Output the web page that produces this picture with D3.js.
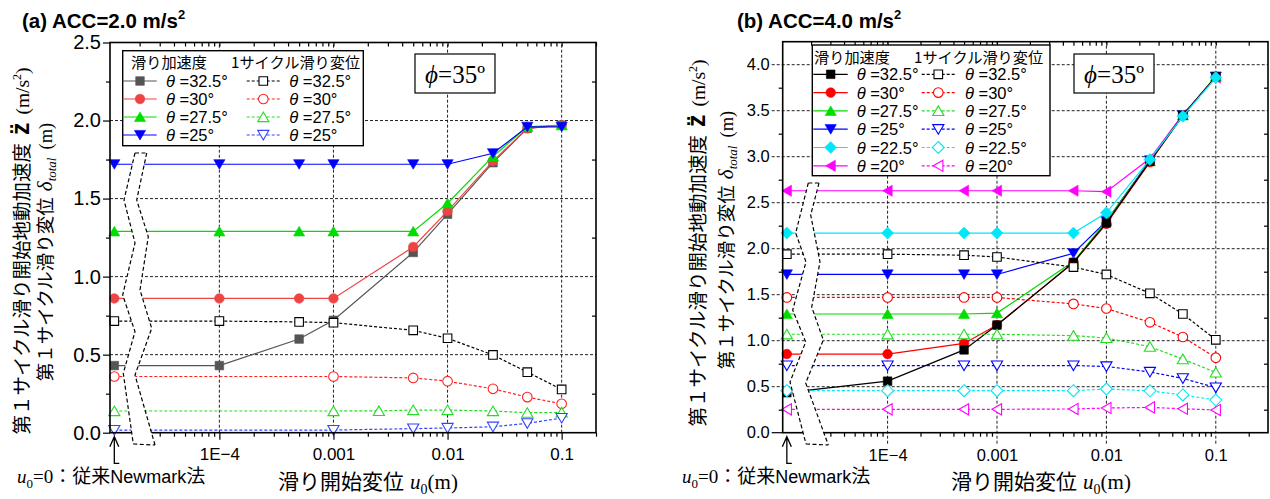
<!DOCTYPE html>
<html>
<head>
<meta charset="utf-8">
<script src="https://cdn.jsdelivr.net/npm/d3@7"></script>
<style>
body { margin: 0; background: #fff; }
svg { display: block; }
text { font-family: "Liberation Sans", Arial, sans-serif; fill: #000; }
.jp { font-family: "Noto Sans CJK JP", sans-serif; }
.serif { font-family: "Liberation Serif", "Times New Roman", serif; }
</style>
</head>
<body>
<svg width="1270" height="499"></svg>
<script>
var svg = d3.select("svg");

// ---- データ ----
var U_NEWMARK = 1.2e-5;   // u0=0 (従来Newmark法) は対数軸の左端付近に置く
var xTicks = [1e-4, 1e-3, 1e-2, 1e-1];
var xTickLabels = ["1E\u22124", "0.001", "0.01", "0.1"];
var yTicksA = [0, 0.5, 1.0, 1.5, 2.0, 2.5];
var yTicksB = [0, 0.5, 1.0, 1.5, 2.0, 2.5, 3.0, 3.5, 4.0];
var thetaA = ["32.5", "30", "27.5", "25"];
var thetaB = ["32.5", "30", "27.5", "25", "22.5", "20"];

// (a) ACC=2.0 m/s2
var uA = [0, 1e-4, 5e-4, 1e-3, 2.5e-3, 5e-3, 1e-2, 2.5e-2, 5e-2, 1e-1];
var accA325 = [0.43, 0.43, 0.60, 0.72, null, 1.155, 1.40, 1.73, 1.95, 1.97];
var accA30  = [0.86, 0.86, 0.86, 0.86, null, 1.19, 1.42, 1.74, 1.95, 1.97];
var accA275 = [1.29, 1.29, 1.29, 1.29, null, 1.29, 1.47, 1.77, 1.96, 1.97];
var accA25  = [1.72, 1.72, 1.72, 1.72, null, 1.72, 1.72, 1.79, 1.96, 1.96];
var dispA325 = [0.715, 0.715, 0.71, 0.705, null, 0.656, 0.605, 0.498, 0.388, 0.277];
var dispA30  = [0.36, null, null, 0.36, null, 0.351, 0.33, 0.281, 0.228, 0.185];
var dispA275 = [0.139, null, null, 0.139, 0.14, 0.145, 0.145, 0.139, 0.128, 0.13];
var dispA25  = [0.017, null, null, 0.017, null, 0.026, 0.03, 0.038, 0.06, 0.094];

// (b) ACC=4.0 m/s2
var uB = [0, 1e-4, 5e-4, 1e-3, 5e-3, 1e-2, 2.5e-2, 5e-2, 1e-1];
var accB325 = [0.435, 0.56, 0.90, 1.17, 1.85, 2.28, 2.95, 3.45, 3.87];
var accB30  = [0.855, 0.855, 0.97, 1.17, 1.85, 2.27, 2.94, 3.45, 3.87];
var accB275 = [1.29, 1.29, 1.29, 1.30, 1.86, 2.30, 2.95, 3.45, 3.87];
var accB25  = [1.72, 1.72, 1.72, 1.72, 1.95, 2.30, 2.96, 3.45, 3.87];
var accB225 = [2.17, 2.17, 2.17, 2.17, 2.17, 2.39, 2.97, 3.44, 3.86];
var accB20  = [2.63, 2.63, 2.63, 2.63, 2.63, 2.62, 2.98, 3.46, 3.86];
var dispB325 = [1.94, 1.94, 1.93, 1.91, 1.80, 1.72, 1.515, 1.29, 1.01];
var dispB30  = [1.47, 1.47, 1.47, 1.47, 1.40, 1.35, 1.20, 1.04, 0.815];
var dispB275 = [1.07, 1.07, 1.07, 1.07, 1.055, 1.03, 0.935, 0.80, 0.655];
var dispB25  = [0.73, 0.73, 0.73, 0.73, 0.73, 0.72, 0.66, 0.59, 0.49];
var dispB225 = [0.457, 0.457, 0.457, 0.457, 0.457, 0.475, 0.455, 0.41, 0.355];
var dispB20  = [0.254, 0.254, 0.254, 0.254, 0.258, 0.268, 0.275, 0.26, 0.247];

// ---- 描画設定 ----
var panelA = {
  left: 110, right: 596, top: 42.5, bottom: 432.7, yMax: 2.5, xMax: 0.2,
  yTicks: yTicksA, yFont: 20, xFont: 17, gridExt: 0,
  u: uA, theta: thetaA,
  acc: [accA325, accA30, accA275, accA25],
  disp: [dispA325, dispA30, dispA275, dispA25],
  accColor: ["#555555", "#ee4444", "#00dd00", "#0000ff"],
  dispColor: ["#000000", "#ff2222", "#22dd22", "#3344ff"],
  order: [0, 1, 2, 3],
  // 軸の省略記号 (左軸からのx, y px)
  bandL: [[25,153],[14,200],[25,243],[12.7,295],[25,331.7],[13.3,373.3],[23.3,444]],
  bandR: [[36.7,153],[26.7,200],[38.3,236.7],[30,290],[41.7,328.3],[25,375],[45,445]],
  title: "(a) ACC=2.0 m/s", titleX: 22,
  legend: {x0: 122.7, y0: 50.7, x1: 363.3, y1: 145.7, headY: 68, rowY: 81, rowH: 18,
           sol: [122.7, 156.7, 140, 166], dsh: [246.7, 280, 263.3, 289.3], h1: 131, h2: 231},
  phi: [415, 54, 80, 39],
  yt1: [28.6, 251, 19.5], yt2: [52, 252, 18.5],
  xt: [368, 489], note: [17, 483]
};
var panelB = {
  left: 782.7, right: 1268, top: 41.7, bottom: 432.7, yMax: 4.25, xMax: 0.3,
  yTicks: yTicksB, yFont: 16.5, xFont: 16.5, gridExt: 11,
  u: uB, theta: thetaB,
  acc: [accB325, accB30, accB275, accB25, accB225, accB20],
  disp: [dispB325, dispB30, dispB275, dispB25, dispB225, dispB20],
  accColor: ["#000000", "#ff0000", "#00dd00", "#0000ff", "#00e8f8", "#ff00ff"],
  dispColor: ["#000000", "#ff0000", "#22dd22", "#0000ff", "#00e8f8", "#ff00ff"],
  order: [5, 3, 2, 1, 0, 4],
  bandL: [[25.6,183],[13,233],[23.3,262],[10,310],[23,342],[7.3,382],[23.3,444]],
  bandR: [[36.3,183],[28,215],[37.3,262],[29,307],[40.6,340],[23,383],[45.6,445]],
  title: "(b) ACC=4.0 m/s", titleX: 737,
  legend: {x0: 812.3, y0: 45, x1: 1050, y1: 175.7, headY: 62.5, rowY: 74.3, rowH: 18.3,
           sol: [813.3, 847.7, 830.7, 856.7], dsh: [921.7, 955, 938.3, 965], h1: 814, h2: 914},
  phi: [1074, 54, 80, 39],
  yt1: [705, 243, 19.5], yt2: [733, 240, 18.5],
  xt: [1041, 489], note: [682, 483]
};

var shapes = ["square", "circle", "up", "down", "diamond", "left"];

function markerPath(shape) {
  if (shape === "square") return "M-4.3,-4.3H4.3V4.3H-4.3Z";
  if (shape === "circle") return "M-4.8,0A4.8,4.8 0 1,0 4.8,0A4.8,4.8 0 1,0 -4.8,0Z";
  if (shape === "up") return "M0,-5L5.6,4.6L-5.6,4.6Z";
  if (shape === "down") return "M0,5L5.6,-4.6L-5.6,-4.6Z";
  if (shape === "left") return "M-5,0L4.6,-5.6L4.6,5.6Z";
  if (shape === "diamond") return "M0,-6L6,0L0,6L-6,0Z";
}

function uPos(u) { return u === 0 ? U_NEWMARK : u; }

function drawSeries(g, x, y, u, vals, color, shape, open) {
  var pts = u.map(function(uu, i) { return [uPos(uu), vals[i]]; })
    .filter(function(d) { return d[1] != null; });
  g.append("path").datum(pts)
    .attr("d", d3.line().x(function(d) { return x(d[0]); }).y(function(d) { return y(d[1]); }))
    .attr("fill", "none").attr("stroke", color).attr("stroke-width", 1.2)
    .attr("stroke-dasharray", open ? "3,2" : null);
  g.append("g").selectAll("path").data(pts).join("path")
    .attr("transform", function(d) { return "translate(" + x(d[0]) + "," + y(d[1]) + ")"; })
    .attr("d", markerPath(shape))
    .attr("fill", open ? "#fff" : color)
    .attr("stroke", color).attr("stroke-width", open ? 1.1 : 0.6);
}

function logMinor(d0, d1) {
  var v = [];
  for (var e = -6; e <= 0; e++) {
    for (var k = 2; k <= 9; k++) {
      var t = k * Math.pow(10, e);
      if (t >= d0 && t <= d1) v.push(t);
    }
  }
  return v;
}

function styleAxis(sel, size) {
  sel.attr("font-family", null).attr("font-size", size);
  sel.select(".domain").remove();
  sel.selectAll("line").attr("stroke", "#000").attr("stroke-width", 1.2);
}

function drawPanel(p) {
  var g = svg.append("g");
  var x = d3.scaleLog().domain([1.1e-5, p.xMax]).range([p.left, p.right]);
  var y = d3.scaleLinear().domain([0, p.yMax]).range([p.bottom, p.top]);

  // グリッド
  var grid = g.append("g").attr("stroke", "#222").attr("stroke-width", 1).attr("stroke-dasharray", "3,2");
  grid.selectAll(".h").data(p.yTicks.filter(function(v) { return v > 0 && v < p.yMax; }))
    .join("line").attr("class", "h")
    .attr("x1", p.left - p.gridExt).attr("x2", p.right)
    .attr("y1", function(d) { return y(d); }).attr("y2", function(d) { return y(d); });
  grid.selectAll(".v").data(xTicks).join("line").attr("class", "v")
    .attr("y1", p.bottom + p.gridExt).attr("y2", p.top)
    .attr("x1", function(d) { return x(d); }).attr("x2", function(d) { return x(d); });

  // データ
  p.order.forEach(function(i) {
    drawSeries(g, x, y, p.u, p.acc[i], p.accColor[i], shapes[i], false);
  });
  p.order.forEach(function(i) {
    drawSeries(g, x, y, p.u, p.disp[i], p.dispColor[i], shapes[i], true);
  });

  // 軸
  var minorX = logMinor(1.1e-5, p.xMax);
  var minorY = d3.range(0.25, p.yMax - 0.01, 0.5);
  var majTick = p.gridExt > 0 ? 0 : 7;

  g.append("g").attr("transform", "translate(0," + p.bottom + ")")
    .call(d3.axisBottom(x).tickValues(xTicks).tickFormat(function(d, i) { return xTickLabels[i]; })
      .tickSize(majTick).tickSizeOuter(0).tickPadding(p.gridExt > 0 ? 17 : 8))
    .call(styleAxis, p.xFont);
  g.append("g").attr("transform", "translate(0," + p.bottom + ")")
    .call(d3.axisBottom(x).tickValues(minorX).tickFormat("").tickSize(4).tickSizeOuter(0))
    .call(styleAxis, p.xFont);
  g.append("g").attr("transform", "translate(0," + p.top + ")")
    .call(d3.axisTop(x).tickValues(xTicks.concat(minorX)).tickFormat("").tickSize(-4).tickSizeOuter(0))
    .call(styleAxis, p.xFont);

  g.append("g").attr("transform", "translate(" + p.left + ",0)")
    .call(d3.axisLeft(y).tickValues(p.yTicks).tickFormat(d3.format(".1f"))
      .tickSize(p.gridExt > 0 ? 0 : 7).tickSizeOuter(0).tickPadding(p.gridExt > 0 ? 13 : 2))
    .call(styleAxis, p.yFont);
  g.append("g").attr("transform", "translate(" + p.left + ",0)")
    .call(d3.axisLeft(y).tickValues(minorY).tickFormat("").tickSize(4).tickSizeOuter(0))
    .call(styleAxis, p.yFont);
  g.append("g").attr("transform", "translate(" + p.right + ",0)")
    .call(d3.axisRight(y).tickValues(minorY).tickFormat("").tickSize(-4).tickSizeOuter(0))
    .call(styleAxis, p.yFont);
  if (p.gridExt > 0) {
    // 0.0 の目盛りは実線
    g.append("line").attr("x1", p.left - p.gridExt).attr("x2", p.left)
      .attr("y1", p.bottom).attr("y2", p.bottom).attr("stroke", "#000").attr("stroke-width", 1.2);
  }

  // 枠
  g.append("rect").attr("x", p.left).attr("y", p.top)
    .attr("width", p.right - p.left).attr("height", p.bottom - p.top)
    .attr("fill", "none").attr("stroke", "#000").attr("stroke-width", 1.6);

  // 軸の省略記号
  var L = p.bandL.map(function(d) { return [p.left + d[0], d[1]]; });
  var R = p.bandR.map(function(d) { return [p.left + d[0], d[1]]; });
  g.append("path").attr("d", d3.line()(L.concat(R.slice().reverse())) + "Z")
    .attr("fill", "#fff").attr("stroke", "none");
  var dash = g.append("g").attr("fill", "none").attr("stroke", "#000")
    .attr("stroke-width", 1.2).attr("stroke-dasharray", "4,2.5");
  dash.append("path").attr("d", d3.line()(L));
  dash.append("path").attr("d", d3.line()(R));
  dash.append("path").attr("d", d3.line()([L[0], R[0]]));
  dash.append("path").attr("d", d3.line()([L[L.length - 1], R[R.length - 1]]));

  // u0=0 の矢印
  var ax = x(U_NEWMARK);
  g.append("path")
    .attr("d", "M" + (ax - 4.5) + "," + (p.bottom + 14) + "L" + ax + "," + (p.bottom + 4) +
      "L" + (ax + 4.5) + "," + (p.bottom + 14) + "M" + ax + "," + (p.bottom + 4) +
      "V" + (p.bottom + 30.6) + "H" + (ax + 5))
    .attr("fill", "none").attr("stroke", "#000").attr("stroke-width", 1.3);

  // 凡例
  var lg = p.legend;
  g.append("rect").attr("x", lg.x0).attr("y", lg.y0)
    .attr("width", lg.x1 - lg.x0).attr("height", lg.y1 - lg.y0)
    .attr("fill", "#fff").attr("stroke", "#000").attr("stroke-width", 1.4);
  g.append("text").attr("class", "jp").attr("x", lg.h1).attr("y", lg.headY)
    .attr("font-size", 15.2).text("滑り加速度");
  g.append("text").attr("class", "jp").attr("x", lg.h2).attr("y", lg.headY)
    .attr("font-size", 15.2).text("1サイクル滑り変位");
  p.theta.forEach(function(th, i) {
    var ry = lg.rowY + i * lg.rowH;
    [[lg.sol, p.accColor[i], false], [lg.dsh, p.dispColor[i], true]].forEach(function(c) {
      var s = c[0];
      g.append("line").attr("x1", s[0]).attr("x2", s[1]).attr("y1", ry).attr("y2", ry)
        .attr("stroke", c[1]).attr("stroke-width", 1.2).attr("stroke-dasharray", c[2] ? "3,2" : null);
      g.append("path").attr("transform", "translate(" + s[2] + "," + ry + ")")
        .attr("d", markerPath(shapes[i])).attr("fill", c[2] ? "#fff" : c[1])
        .attr("stroke", c[1]).attr("stroke-width", c[2] ? 1.1 : 0.6);
      var t = g.append("text").attr("x", s[3]).attr("y", ry + 6).attr("font-size", 16.5);
      t.append("tspan").attr("font-style", "italic").text("\u03b8");
      t.append("tspan").text(" =" + th + "\u00b0");
    });
  });

  // φ=35°
  var ph = p.phi;
  g.append("rect").attr("x", ph[0]).attr("y", ph[1]).attr("width", ph[2]).attr("height", ph[3])
    .attr("fill", "#fff").attr("stroke", "#000").attr("stroke-width", 1.2);
  var pt = g.append("text").attr("class", "serif").attr("x", ph[0] + ph[2] / 2).attr("y", ph[1] + 29)
    .attr("text-anchor", "middle").attr("font-size", 25);
  pt.append("tspan").attr("font-style", "italic").text("\u03d5");
  pt.append("tspan").text("=35\u00ba");

  // タイトル
  var tt = g.append("text").attr("x", p.titleX).attr("y", 28)
    .attr("font-family", "DejaVu Sans").attr("font-weight", "bold").attr("font-size", 20.5);
  tt.append("tspan").text(p.title);
  tt.append("tspan").attr("font-size", 13).attr("dy", -9).text("2");

  // 縦軸ラベル
  var y1 = g.append("text").attr("text-anchor", "middle").attr("font-size", p.yt1[2])
    .attr("transform", "translate(" + p.yt1[0] + "," + p.yt1[1] + ") rotate(-90)");
  y1.append("tspan").attr("class", "jp").text("第１サイクル滑り開始地動加速度");
  y1.append("tspan").attr("font-weight", "bold").attr("font-size", 25).attr("dx", 8).text("z\u0308");
  y1.append("tspan").attr("class", "serif").attr("dx", 8).text("(m/s");
  y1.append("tspan").attr("class", "serif").attr("font-size", 12).attr("dy", -8).text("2");
  y1.append("tspan").attr("class", "serif").attr("dy", 8).text(")");

  var y2 = g.append("text").attr("text-anchor", "middle").attr("font-size", p.yt2[2])
    .attr("transform", "translate(" + p.yt2[0] + "," + p.yt2[1] + ") rotate(-90)");
  y2.append("tspan").attr("class", "jp").text("第１サイクル滑り変位");
  y2.append("tspan").attr("class", "serif").attr("font-style", "italic").attr("dx", 6).attr("font-size", 21).text("\u03b4");
  y2.append("tspan").attr("class", "serif").attr("font-style", "italic").attr("font-size", 13).attr("dy", 4).text("total");
  y2.append("tspan").attr("class", "serif").attr("dy", -4).attr("dx", 8).text("(m)");

  // 横軸ラベル
  var xt = g.append("text").attr("x", p.xt[0]).attr("y", p.xt[1]).attr("text-anchor", "middle").attr("font-size", 21);
  xt.append("tspan").attr("class", "jp").text("滑り開始変位");
  xt.append("tspan").attr("class", "serif").attr("font-style", "italic").attr("dx", 6).text("u");
  xt.append("tspan").attr("class", "serif").attr("font-size", 14).attr("dy", 5).text("0");
  xt.append("tspan").attr("class", "serif").attr("dy", -5).text("(m)");

  // 注記
  var nt = g.append("text").attr("x", p.note[0]).attr("y", p.note[1]).attr("font-size", 19);
  nt.append("tspan").attr("class", "serif").attr("font-style", "italic").text("u");
  nt.append("tspan").attr("class", "serif").attr("font-size", 13).attr("dy", 5).text("0");
  nt.append("tspan").attr("class", "serif").attr("dy", -5).text("=0");
  nt.append("tspan").attr("class", "jp").text("：従来");
  nt.append("tspan").attr("font-size", 18).text("Newmark");
  nt.append("tspan").attr("class", "jp").text("法");
}

drawPanel(panelA);
drawPanel(panelB);
</script>
</body>
</html>
